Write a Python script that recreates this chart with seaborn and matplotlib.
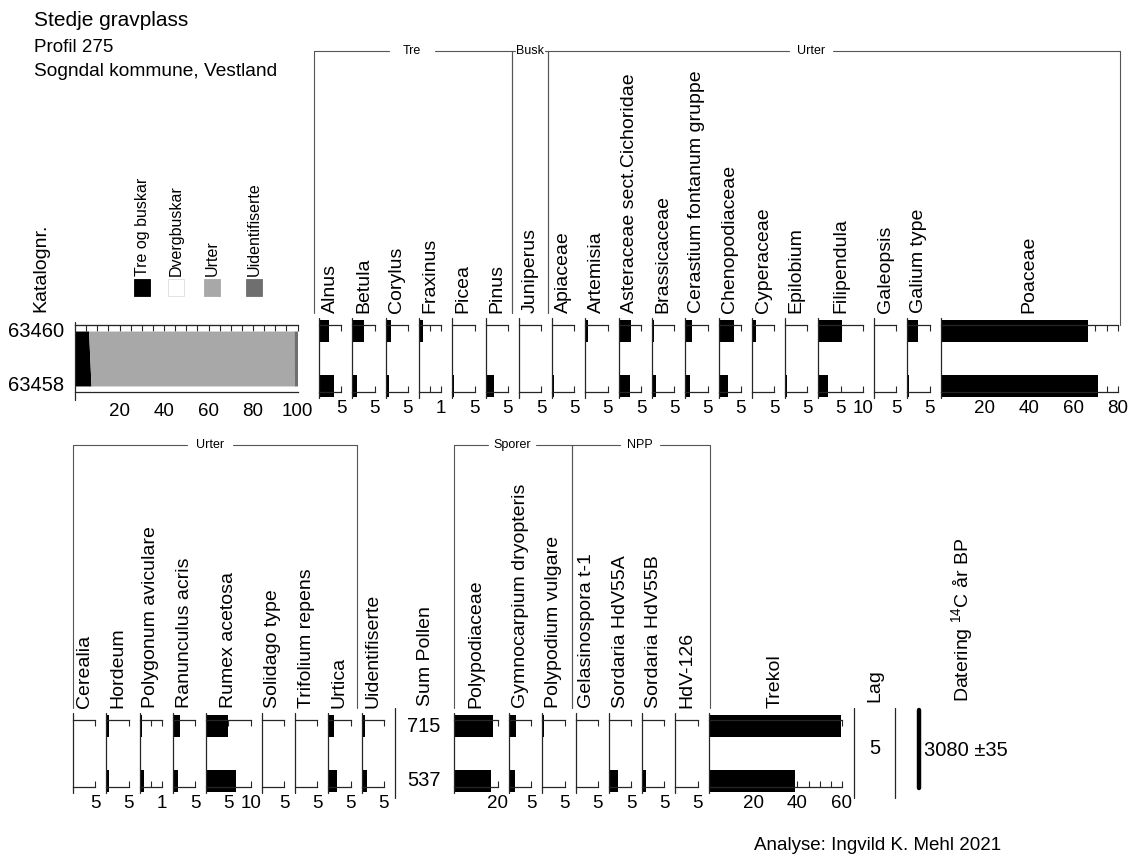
import numpy as np
import pandas as pd
import matplotlib
matplotlib.use("Agg")
import matplotlib.pyplot as plt
import seaborn as sns
from matplotlib.lines import Line2D
from matplotlib.patches import Rectangle

# --- data -------------------------------------------------------------
samples = ["63460", "63458"]

summary_groups = ["Tre og buskar", "Dvergbuskar", "Urter", "Uidentifiserte"]
summary_63460 = [6.1, 0.0, 92.3, 1.6]
summary_63458 = [7.2, 0.0, 91.3, 1.5]

top_taxa = ["Alnus", "Betula", "Corylus", "Fraxinus", "Picea", "Pinus", "Juniperus",
            "Apiaceae", "Artemisia", "Asteraceae sect.Cichoridae", "Brassicaceae",
            "Cerastium fontanum gruppe", "Chenopodiaceae", "Cyperaceae", "Epilobium",
            "Filipendula", "Galeopsis", "Galium type", "Poaceae"]
top_63460 = [2.2, 2.6, 1.3, 0.18, 0.0, 0.2, 0.0, 0.2, 0.5, 2.8, 0.5, 1.5, 3.4, 1.0, 0.0, 5.2, 0.0, 2.3, 66.5]
top_63458 = [3.45, 1.1, 0.75, 0.0, 0.3, 1.8, 0.3, 0.4, 0.0, 2.5, 1.0, 1.0, 2.0, 0.0, 0.3, 2.1, 0.2, 0.4, 71.0]
top_xmax = [5, 5, 5, 1, 5, 5, 5, 5, 5, 5, 5, 5, 5, 5, 5, 10, 5, 5, 80]

urter_taxa = ["Cerealia", "Hordeum", "Polygonum aviculare", "Ranunculus acris", "Rumex acetosa",
              "Solidago type", "Trifolium repens", "Urtica", "Uidentifiserte"]
urter_63460 = [0.0, 0.5, 0.12, 1.6, 5.0, 0.3, 0.15, 1.3, 0.7]
urter_63458 = [0.2, 0.5, 0.18, 1.1, 6.8, 0.3, 0.15, 2.0, 1.1]
urter_xmax = [5, 5, 1, 5, 10, 5, 5, 5, 5]

sum_pollen = [715, 537]

spore_taxa = ["Polypodiaceae", "Gymnocarpium dryopteris", "Polypodium vulgare", "Gelasinospora t-1",
              "Sordaria HdV55A", "Sordaria HdV55B", "HdV-126", "Trekol"]
spore_63460 = [17.7, 1.5, 0.3, 0.3, 0.2, 0.2, 0.2, 59.5]
spore_63458 = [16.8, 1.3, 0.0, 0.0, 2.0, 0.9, 0.0, 39.0]
spore_xmax = [20, 5, 5, 5, 5, 5, 5, 60]

lag = "5"
datering = "3080 ±35"

# --- layout -------------------------------------------------------------
W, H = 1133, 856
LINE = "#262626"
BRACKET = "#555555"
PAD = 0.11
LABEL_FS = 14
panel_width = {1: 22.3, 5: 22.3, 10: 44.5, 20: 44, 60: 133, 80: 177}
labeled_ticks = {1: [1], 5: [5], 10: [5, 10], 20: [20], 60: [20, 40, 60], 80: [20, 40, 60, 80]}
minor_ticks = {1: [0.5], 5: [], 10: [], 20: [5, 10, 15],
               60: list(range(5, 60, 5)), 80: list(range(5, 80, 5))}

sns.set_style("white")
plt.rcParams["font.family"] = ["Liberation Sans", "DejaVu Sans"]
plt.rcParams["mathtext.fontset"] = "custom"
plt.rcParams["mathtext.rm"] = "Liberation Sans"
plt.rcParams["text.color"] = "black"
plt.rcParams["xtick.labelcolor"] = "black"

fig = plt.figure(figsize=(11.33, 8.56), dpi=100)


def fx(x):
    return x / W


def fy(y):
    return 1 - y / H


def add_panel(x0, width, ytop, ybot):
    return fig.add_axes([fx(x0), fy(ybot), width / W, (ybot - ytop) / H])


def fig_line(xs, ys, color=BRACKET, lw=0.8):
    fig.add_artist(Line2D([fx(x) for x in xs], [fy(y) for y in ys], color=color, lw=lw))


def taxon_panel(x0, ytop, name, vals, xmax):
    width = panel_width[xmax]
    ax = add_panel(x0, width, ytop, ytop + 67)
    sns.barplot(x=vals, y=samples, orient="h", color="black", saturation=1,
                width=0.4, errorbar=None, linewidth=0, ax=ax)
    for p in ax.patches:
        p.set_clip_on(False)
    ax.set_ylim(1 + PAD, -PAD)
    ax.set_xlim(0, xmax)
    ax.set_xticks(labeled_ticks[xmax])
    ax.set_xticklabels([str(t) for t in labeled_ticks[xmax]])
    ax.set_xticks(minor_ticks[xmax], minor=True)
    ax.tick_params(axis="x", which="both", direction="in", top=True, bottom=True,
                   labeltop=False, length=4, width=0.8, color=LINE, labelcolor="black",
                   pad=6, labelsize=13.5)
    ax.tick_params(axis="y", left=False, labelleft=False)
    ax.set(xlabel="", ylabel="")
    for s in ["left", "right"]:
        ax.spines[s].set_visible(False)
    for s in ["top", "bottom"]:
        ax.spines[s].set_color(LINE)
        ax.spines[s].set_linewidth(0.9)
    ax.axvline(0, ymin=-0.09, ymax=1.1, clip_on=False, color=LINE, lw=0.9)
    ax.set_facecolor("none")
    fig.text(fx(x0 + width / 2), fy(ytop - 12), name, rotation=90,
             ha="center", va="bottom", fontsize=LABEL_FS)
    return x0 + width


# --- header -----------------------------------------------------------
fig.text(fx(34), fy(21), "Stedje gravplass", ha="left", va="center", fontsize=15)
fig.text(fx(34), fy(47), "Profil 275", ha="left", va="center", fontsize=13.5)
fig.text(fx(34), fy(72), "Sogndal kommune, Vestland", ha="left", va="center", fontsize=13.8)
fig.text(fx(41), fy(312), "Katalognr.", rotation=90, ha="center", va="bottom", fontsize=LABEL_FS)

# --- summary diagram ----------------------------------------------------
summary_colors = ["black", "white", "#a8a8a8", "#6f6f6f"]
ax = add_panel(75, 222.5, 325, 392)
left = np.zeros(2)
for grp, a, b, c in zip(summary_groups, summary_63460, summary_63458, summary_colors):
    right = left + np.array([a, b])
    ax.fill_betweenx([0, 1], left, right, color=c, lw=0)
    left = right
ax.set_xlim(0, 100)
ax.set_ylim(1 + PAD, -PAD)
ax.set_xticks([20, 40, 60, 80, 100])
ax.set_xticks(range(5, 100, 5), minor=True)
ax.tick_params(axis="x", which="both", direction="out", length=6, width=0.8,
               color=LINE, labelcolor="black", pad=2, labelsize=13.5)
ax.set_yticks([])
for s in ["left", "right"]:
    ax.spines[s].set_visible(False)
for s in ["top", "bottom"]:
    ax.spines[s].set_color(LINE)
    ax.spines[s].set_linewidth(0.9)
ax.axvline(0, ymin=-0.12, ymax=1.05, clip_on=False, color=LINE, lw=0.9)
sec = ax.secondary_xaxis("top")
sec.set_xticks(range(5, 101, 5))
sec.tick_params(axis="x", direction="in", length=4, width=0.8, color=LINE, labeltop=False)
sec.spines["top"].set_color(LINE)
for i, s in enumerate(samples):
    ax.text(-0.05, i, s, transform=ax.get_yaxis_transform(), ha="right", va="center", fontsize=14.5)

# legend squares
for grp, c, xl in zip(summary_groups, summary_colors, [134, 168, 204, 246]):
    fig.add_artist(Rectangle((fx(xl), fy(296)), 16 / W, 17 / H, transform=fig.transFigure,
                             facecolor=c, edgecolor="#dddddd" if c == "white" else c, lw=0.6))
    fig.text(fx(xl + 8), fy(276), grp, rotation=90, ha="center", va="bottom", fontsize=11.5)

# --- top row taxa -------------------------------------------------------
x = 319
for name, a, b, xm in zip(top_taxa, top_63460, top_63458, top_xmax):
    x = taxon_panel(x, 325, name, [a, b], xm) + 11

# --- bottom row: urter ------------------------------------------------
x = 73
for name, a, b, xm in zip(urter_taxa, urter_63460, urter_63458, urter_xmax):
    x = taxon_panel(x, 720, name, [a, b], xm) + 11

# sum pollen column
ax = add_panel(395, 58, 720, 787)
ax.set_xlim(0, 1)
ax.set_ylim(1 + PAD, -PAD)
ax.axis("off")
ax.axvline(0, ymin=-0.16, ymax=1.18, clip_on=False, color=LINE, lw=0.9)
for i, v in enumerate(sum_pollen):
    ax.text(0.5, i, str(v), ha="center", va="center", fontsize=14.5)
fig.text(fx(425), fy(706), "Sum Pollen", rotation=90, ha="center", va="bottom", fontsize=LABEL_FS)

# --- bottom row: sporer / NPP / trekol ----------------------------------
x = 454
for name, a, b, xm in zip(spore_taxa, spore_63460, spore_63458, spore_xmax):
    x = taxon_panel(x, 720, name, [a, b], xm) + 11

# lag column
ax = add_panel(854, 41, 720, 787)
ax.set_xlim(0, 1)
ax.set_ylim(1 + PAD, -PAD)
ax.axis("off")
for xv in [0, 1]:
    ax.axvline(xv, ymin=-0.16, ymax=1.18, clip_on=False, color=LINE, lw=0.9)
ax.text(0.5, 0.4, lag, ha="center", va="center", fontsize=14.5)
fig.text(fx(875), fy(702), "Lag", rotation=90, ha="center", va="bottom", fontsize=LABEL_FS)

# datering column
ax = add_panel(895, 100, 720, 787)
ax.set_xlim(0, 100)
ax.set_ylim(1 + PAD, -PAD)
ax.axis("off")
ax.axvline(24, ymin=-0.015, ymax=1.15, clip_on=False, color="black", lw=3.2)
ax.text(29, 0.45, datering, ha="left", va="center", fontsize=14.5)
fig.text(fx(962), fy(702), r"Datering $\mathregular{^{14}}$C år BP", rotation=90,
         ha="center", va="bottom", fontsize=LABEL_FS)

# --- group brackets -----------------------------------------------------
def bracket(x0, x1, y, label, cx, gap, drop0, drop1):
    fig_line([x0, cx - gap], [y, y])
    fig_line([cx + gap, x1], [y, y])
    fig_line([x0, x0], [y, drop0])
    fig_line([x1, x1], [y, drop1])
    fig.text(fx(cx), fy(y), label, ha="center", va="center", fontsize=9)


bracket(314, 512, 51, "Tre", 412, 23, 313, 313)
bracket(512, 548, 51, "Busk", 530, 15, 313, 313)
bracket(548, 1120, 51, "Urter", 811, 22, 313, 325)
bracket(73, 357, 445, "Urter", 210, 23, 708, 708)
bracket(454, 572, 445, "Sporer", 512, 24, 708, 708)
bracket(572, 710, 445, "NPP", 640, 20, 708, 708)

fig.text(fx(754), fy(845), "Analyse: Ingvild K. Mehl 2021", ha="left", va="center", fontsize=13.5)

fig.savefig("out.png", dpi=100)
